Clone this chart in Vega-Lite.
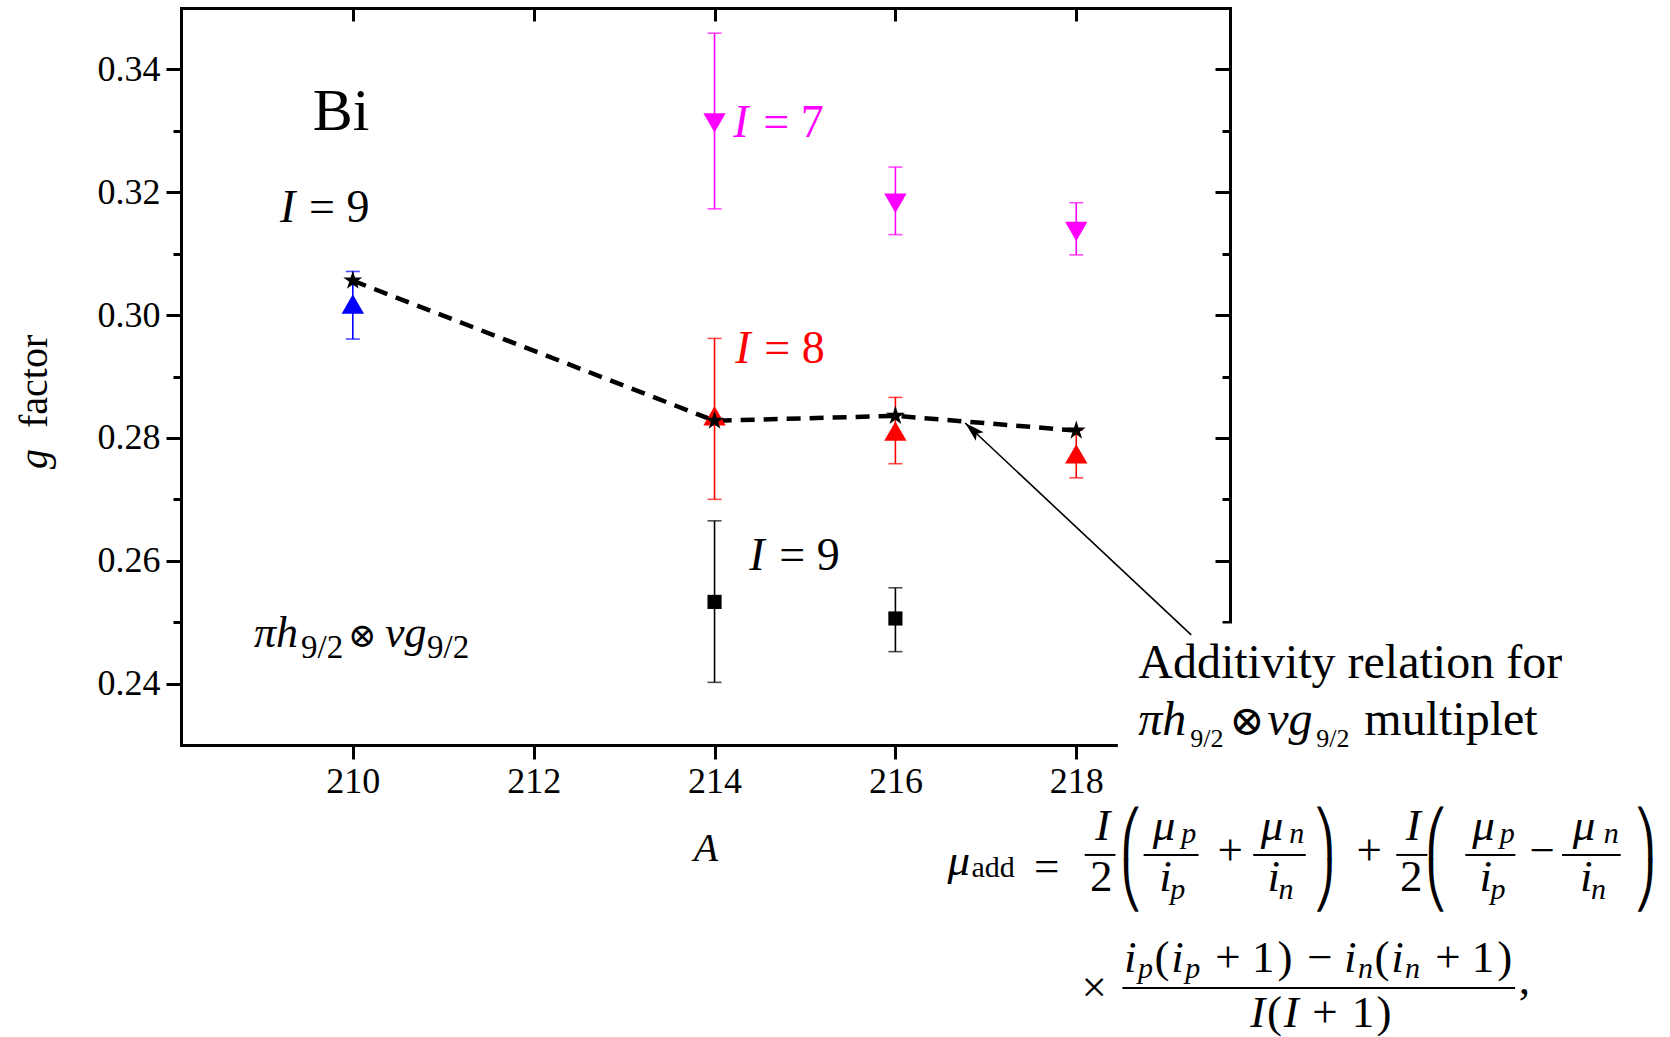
{
  "$schema": "https://vega.github.io/schema/vega-lite/v6.json",
  "width": 1049,
  "height": 737,
  "autosize": {"type": "none"},
  "padding": {"left": 181, "top": 8, "right": 440, "bottom": 292},
  "background": "white",
  "config": {
    "view": {"stroke": null},
    "font": "Liberation Serif",
    "text": {"font": "Liberation Serif, DejaVu Serif", "color": "black", "baseline": "alphabetic"}
  },
  "datasets": {
    "pts": [
      {"A": 210, "g": 0.3018, "lo": 0.2961, "hi": 0.3071, "series": "I9b"},
      {"A": 214, "g": 0.3313, "lo": 0.3173, "hi": 0.3459, "series": "I7"},
      {"A": 216, "g": 0.3182, "lo": 0.3131, "hi": 0.3241, "series": "I7"},
      {"A": 218, "g": 0.3136, "lo": 0.3098, "hi": 0.3183, "series": "I7"},
      {"A": 214, "g": 0.2836, "lo": 0.2700, "hi": 0.2962, "series": "I8"},
      {"A": 216, "g": 0.2811, "lo": 0.2758, "hi": 0.2866, "series": "I8"},
      {"A": 218, "g": 0.2774, "lo": 0.2735, "hi": 0.2813, "series": "I8"},
      {"A": 214, "g": 0.2533, "lo": 0.2402, "hi": 0.2665, "series": "I9"},
      {"A": 216, "g": 0.2506, "lo": 0.2452, "hi": 0.2556, "series": "I9"}
    ],
    "additivity": [
      {"A": 210, "g": 0.3056},
      {"A": 214, "g": 0.2828},
      {"A": 216, "g": 0.2836},
      {"A": 218, "g": 0.2812}
    ],
    "spinI": [
      {"A": 209.195, "g": 0.31516, "t": "I", "series": "I9"},
      {"A": 214.206, "g": 0.32900, "t": "I", "series": "I7"},
      {"A": 214.228, "g": 0.29225, "t": "I", "series": "I8"},
      {"A": 214.383, "g": 0.25850, "t": "I", "series": "I9"}
    ],
    "spinValue": [
      {"A": 209.516, "g": 0.31516, "t": "= 9", "series": "I9"},
      {"A": 214.538, "g": 0.32900, "t": "= 7", "series": "I7"},
      {"A": 214.549, "g": 0.29225, "t": "= 8", "series": "I8"},
      {"A": 214.715, "g": 0.25850, "t": "= 9", "series": "I9"}
    ],
    "element": [{"A": 209.870, "g": 0.33014, "t": "Bi"}],
    "configIt": [
      {"A": 208.907, "g": 0.245964, "t": "πh"},
      {"A": 210.356, "g": 0.245964, "t": "νg"}
    ],
    "configRm": [{"A": 209.947, "g": 0.245964, "t": "⊗"}],
    "configSub": [
      {"A": 209.427, "g": 0.244173, "t": "9/2"},
      {"A": 210.821, "g": 0.244173, "t": "9/2"}
    ],
    "noteRm": [
      {"A": 218.685, "g": 0.240917, "t": "Additivity relation for"},
      {"A": 221.185, "g": 0.231637, "t": "multiplet"}
    ],
    "noteOtimes": [{"A": 219.692, "g": 0.231637, "t": "⊗"}],
    "noteIt": [
      {"A": 218.685, "g": 0.231637, "t": "πh"},
      {"A": 220.112, "g": 0.231637, "t": "νg"}
    ],
    "noteSub": [
      {"A": 219.260, "g": 0.229683, "t": "9/2"},
      {"A": 220.654, "g": 0.229683, "t": "9/2"}
    ],
    "noteBox": [{"A": 218.46, "A2": 226, "g": 0.2498, "g2": 0.18}],
    "arrow": [{"A": 219.271, "g": 0.24792, "A2": 216.772, "g2": 0.28243}],
    "arrowTip": [{"A": 216.772, "g": 0.28243}],
    "yTitleIt": [{"A": 206.618, "g": 0.27494, "t": "g"}],
    "yTitleRm": [{"A": 206.618, "g": 0.28162, "t": "factor"}],
    "eqIt": [
      {"A": 216.702, "g": 0.208843, "t": "μ"},
      {"A": 218.292, "g": 0.214542, "t": "I"},
      {"A": 218.970, "g": 0.214542, "t": "μ"},
      {"A": 218.987, "g": 0.206238, "t": "i"},
      {"A": 220.166, "g": 0.214542, "t": "μ"},
      {"A": 220.183, "g": 0.206238, "t": "i"},
      {"A": 221.727, "g": 0.214542, "t": "I"},
      {"A": 222.503, "g": 0.214542, "t": "μ"},
      {"A": 222.528, "g": 0.206238, "t": "i"},
      {"A": 223.615, "g": 0.214542, "t": "μ"},
      {"A": 223.640, "g": 0.206238, "t": "i"},
      {"A": 218.598, "g": 0.193050, "t": "i"},
      {"A": 219.119, "g": 0.193050, "t": "i"},
      {"A": 221.030, "g": 0.193050, "t": "i"},
      {"A": 221.552, "g": 0.193050, "t": "i"},
      {"A": 220.007, "g": 0.184095, "t": "I"},
      {"A": 220.376, "g": 0.184095, "t": "I"}
    ],
    "eqRm": [
      {"A": 217.672, "g": 0.207866, "t": "="},
      {"A": 218.276, "g": 0.206238, "t": "2"},
      {"A": 219.703, "g": 0.210390, "t": "+"},
      {"A": 221.240, "g": 0.210390, "t": "+"},
      {"A": 221.705, "g": 0.206238, "t": "2"},
      {"A": 223.151, "g": 0.210390, "t": "−"},
      {"A": 218.198, "g": 0.188166, "t": "×"},
      {"A": 218.949, "g": 0.193050, "t": "("},
      {"A": 219.677, "g": 0.193050, "t": "+"},
      {"A": 220.067, "g": 0.193050, "t": "1"},
      {"A": 220.307, "g": 0.193050, "t": ")"},
      {"A": 220.694, "g": 0.193050, "t": "−"},
      {"A": 221.382, "g": 0.193050, "t": "("},
      {"A": 222.111, "g": 0.193050, "t": "+"},
      {"A": 222.499, "g": 0.193050, "t": "1"},
      {"A": 222.739, "g": 0.193050, "t": ")"},
      {"A": 220.191, "g": 0.184095, "t": "("},
      {"A": 220.750, "g": 0.184095, "t": "+"},
      {"A": 221.172, "g": 0.184095, "t": "1"},
      {"A": 221.403, "g": 0.184095, "t": ")"},
      {"A": 222.955, "g": 0.189468, "t": ","}
    ],
    "eqSub": [
      {"A": 219.245, "g": 0.214053, "t": "p"},
      {"A": 220.437, "g": 0.214053, "t": "n"},
      {"A": 222.765, "g": 0.214053, "t": "p"},
      {"A": 223.915, "g": 0.214053, "t": "n"},
      {"A": 219.123, "g": 0.204935, "t": "p"},
      {"A": 220.319, "g": 0.204935, "t": "n"},
      {"A": 222.664, "g": 0.204935, "t": "p"},
      {"A": 223.776, "g": 0.204935, "t": "n"},
      {"A": 218.766, "g": 0.192073, "t": "p"},
      {"A": 219.287, "g": 0.192073, "t": "p"},
      {"A": 221.197, "g": 0.192073, "t": "n"},
      {"A": 221.719, "g": 0.192073, "t": "n"}
    ],
    "eqSubRm": [{"A": 217.081, "g": 0.208518, "t": "add"}],
    "eqParenTop": [
      {"A": 218.608, "g": 0.212995, "t": "⎛"},
      {"A": 220.746, "g": 0.212995, "t": "⎞"},
      {"A": 221.981, "g": 0.212995, "t": "⎛"},
      {"A": 224.291, "g": 0.212995, "t": "⎞"}
    ],
    "eqParenBottom": [
      {"A": 218.608, "g": 0.204529, "t": "⎝"},
      {"A": 220.746, "g": 0.204529, "t": "⎠"},
      {"A": 221.981, "g": 0.204529, "t": "⎝"},
      {"A": 224.291, "g": 0.204529, "t": "⎠"}
    ],
    "eqBars": [
      {"A": 218.094, "A2": 218.433, "g": 0.212099},
      {"A": 218.745, "A2": 219.352, "g": 0.212099},
      {"A": 219.957, "A2": 220.538, "g": 0.212099},
      {"A": 221.539, "A2": 221.882, "g": 0.212099},
      {"A": 222.302, "A2": 222.855, "g": 0.212099},
      {"A": 223.372, "A2": 224.021, "g": 0.212099},
      {"A": 218.510, "A2": 222.852, "g": 0.190445}
    ]
  },
  "encoding": {
    "x": {"field": "A", "type": "quantitative", "scale": {"domain": [208.1, 219.7], "nice": false, "zero": false}, "axis": null},
    "y": {"field": "g", "type": "quantitative", "scale": {"domain": [0.23, 0.35], "nice": false, "zero": false}, "axis": null}
  },
  "layer": [
    {
      "data": {"name": "pts"},
      "mark": {"type": "rule", "strokeWidth": 1.6},
      "encoding": {
        "x": {
          "field": "A", "type": "quantitative",
          "scale": {"domain": [208.1, 219.7], "nice": false, "zero": false},
          "axis": {
            "orient": "bottom", "values": [210, 212, 214, 216, 218], "format": "d",
            "title": "A", "titleFont": "Liberation Serif", "titleFontSize": 40, "titleFontStyle": "italic",
            "titleFontWeight": "normal", "titleColor": "black", "titlePadding": 29,
            "labelFont": "Liberation Serif", "labelFontSize": 36, "labelColor": "black", "labelPadding": 5,
            "labelFlush": false, "labelOverlap": false,
            "tickSize": 14, "tickWidth": 3, "tickColor": "black",
            "domainColor": "black", "domainWidth": 3, "domainCap": "square", "grid": false
          }
        },
        "y": {
          "field": "lo", "type": "quantitative",
          "scale": {"domain": [0.23, 0.35], "nice": false, "zero": false},
          "axis": {
            "orient": "left", "title": null,
            "values": [0.24, 0.25, 0.26, 0.27, 0.28, 0.29, 0.3, 0.31, 0.32, 0.33, 0.34],
            "labelExpr": "round(datum.value*100) % 2 == 0 ? format(datum.value, '.2f') : ''",
            "labelFont": "Liberation Serif", "labelFontSize": 36, "labelColor": "black", "labelPadding": 6,
            "labelOverlap": false, "labelFlush": false,
            "tickSize": {"condition": {"test": "round(datum.value*100) % 2 == 0", "value": 15}, "value": 8},
            "tickWidth": 3, "tickColor": "black",
            "domainColor": "black", "domainWidth": 3, "domainCap": "square", "grid": false
          }
        },
        "y2": {"field": "hi"},
        "color": {"field": "series", "type": "nominal", "scale": {"domain": ["I7", "I8", "I9b", "I9"], "range": ["#ff00ff", "#ff0000", "#0000ff", "#000000"]}, "legend": null}
      }
    },
    {
      "data": {"name": "pts"},
      "mark": {"type": "tick", "orient": "horizontal", "size": 14, "thickness": 1.6},
      "encoding": {
        "y": {"field": "lo", "type": "quantitative", "scale": {"domain": [0.23, 0.35], "nice": false, "zero": false}, "axis": null},
        "color": {"field": "series", "type": "nominal", "scale": {"domain": ["I7", "I8", "I9b", "I9"], "range": ["#ff00ff", "#ff0000", "#0000ff", "#000000"]}, "legend": null}
      }
    },
    {
      "data": {"name": "pts"},
      "mark": {"type": "tick", "orient": "horizontal", "size": 14, "thickness": 1.6},
      "encoding": {
        "y": {"field": "hi", "type": "quantitative", "scale": {"domain": [0.23, 0.35], "nice": false, "zero": false}, "axis": null},
        "color": {"field": "series", "type": "nominal", "scale": {"domain": ["I7", "I8", "I9b", "I9"], "range": ["#ff00ff", "#ff0000", "#0000ff", "#000000"]}, "legend": null}
      }
    },
    {
      "data": {"name": "additivity"},
      "mark": {"type": "line", "color": "black", "strokeWidth": 4.5, "strokeDash": [14, 9]},
      "encoding": {
        "x": {
          "field": "A", "type": "quantitative",
          "scale": {"domain": [208.1, 219.7], "nice": false, "zero": false},
          "axis": {
            "orient": "top", "title": null, "labels": false, "values": [210, 212, 214, 216, 218],
            "tickSize": -13, "tickWidth": 3, "tickColor": "black",
            "domainColor": "black", "domainWidth": 3, "domainCap": "square", "grid": false
          }
        },
        "y": {
          "field": "g", "type": "quantitative",
          "scale": {"domain": [0.23, 0.35], "nice": false, "zero": false},
          "axis": {
            "orient": "right", "title": null, "labels": false,
            "values": [0.24, 0.25, 0.26, 0.27, 0.28, 0.29, 0.3, 0.31, 0.32, 0.33, 0.34],
            "tickSize": {"condition": {"test": "round(datum.value*100) % 2 == 0", "value": -15}, "value": -8},
            "tickWidth": 3, "tickColor": "black",
            "domainColor": "black", "domainWidth": 3, "domainCap": "square", "grid": false
          }
        }
      }
    },
    {
      "data": {"name": "pts"},
      "transform": [{"filter": "datum.series != 'I9'"}],
      "mark": {"type": "point", "filled": true, "size": 500, "opacity": 1},
      "encoding": {
        "shape": {"field": "series", "type": "nominal", "scale": {"domain": ["I7", "I8", "I9b"], "range": ["triangle-down", "triangle-up", "triangle-up"]}, "legend": null},
        "color": {"field": "series", "type": "nominal", "scale": {"domain": ["I7", "I8", "I9b", "I9"], "range": ["#ff00ff", "#ff0000", "#0000ff", "#000000"]}, "legend": null}
      }
    },
    {
      "data": {"name": "pts"},
      "transform": [{"filter": "datum.series == 'I9'"}],
      "mark": {"type": "square", "size": 200, "opacity": 1, "color": "black"}
    },
    {
      "data": {"name": "additivity"},
      "mark": {"type": "point", "shape": "M0,-1L0.2245,-0.309L0.951,-0.309L0.3633,0.118L0.588,0.809L0,0.382L-0.588,0.809L-0.3633,0.118L-0.951,-0.309L-0.2245,-0.309Z", "filled": true, "color": "black", "size": 400, "opacity": 1}
    },
    {
      "data": {"name": "noteBox"},
      "mark": {"type": "rect", "color": "white"},
      "encoding": {"x2": {"field": "A2"}, "y2": {"field": "g2"}}
    },
    {
      "data": {"name": "arrow"},
      "mark": {"type": "rule", "color": "black", "strokeWidth": 1.6},
      "encoding": {"x2": {"field": "A2"}, "y2": {"field": "g2"}}
    },
    {
      "data": {"name": "arrowTip"},
      "mark": {"type": "point", "shape": "M0,0L0.35,1.2L0,0.95L-0.35,1.2Z", "filled": true, "color": "black", "size": 1100, "angle": 313, "opacity": 1}
    },
    {
      "data": {"name": "element"},
      "mark": {"type": "text", "fontSize": 60, "align": "center"},
      "encoding": {"text": {"field": "t"}}
    },
    {
      "data": {"name": "spinI"},
      "mark": {"type": "text", "fontSize": 46, "fontStyle": "italic", "align": "left"},
      "encoding": {
        "text": {"field": "t"},
        "color": {"field": "series", "type": "nominal", "scale": {"domain": ["I7", "I8", "I9b", "I9"], "range": ["#ff00ff", "#ff0000", "#0000ff", "#000000"]}, "legend": null}
      }
    },
    {
      "data": {"name": "spinValue"},
      "mark": {"type": "text", "fontSize": 46, "align": "left"},
      "encoding": {
        "text": {"field": "t"},
        "color": {"field": "series", "type": "nominal", "scale": {"domain": ["I7", "I8", "I9b", "I9"], "range": ["#ff00ff", "#ff0000", "#0000ff", "#000000"]}, "legend": null}
      }
    },
    {
      "data": {"name": "configIt"},
      "mark": {"type": "text", "fontSize": 44, "fontStyle": "italic", "align": "left"},
      "encoding": {"text": {"field": "t"}}
    },
    {
      "data": {"name": "configRm"},
      "mark": {"type": "text", "fontSize": 34, "align": "left"},
      "encoding": {"text": {"field": "t"}}
    },
    {
      "data": {"name": "configSub"},
      "mark": {"type": "text", "fontSize": 33, "align": "left"},
      "encoding": {"text": {"field": "t"}}
    },
    {
      "data": {"name": "noteRm"},
      "mark": {"type": "text", "fontSize": 48, "align": "left"},
      "encoding": {"text": {"field": "t"}}
    },
    {
      "data": {"name": "noteOtimes"},
      "mark": {"type": "text", "fontSize": 42, "align": "left"},
      "encoding": {"text": {"field": "t"}}
    },
    {
      "data": {"name": "noteIt"},
      "mark": {"type": "text", "fontSize": 48, "fontStyle": "italic", "align": "left"},
      "encoding": {"text": {"field": "t"}}
    },
    {
      "data": {"name": "noteSub"},
      "mark": {"type": "text", "fontSize": 26, "align": "left"},
      "encoding": {"text": {"field": "t"}}
    },
    {
      "data": {"name": "yTitleIt"},
      "mark": {"type": "text", "fontSize": 40, "fontStyle": "italic", "align": "left", "angle": 270},
      "encoding": {"text": {"field": "t"}}
    },
    {
      "data": {"name": "yTitleRm"},
      "mark": {"type": "text", "fontSize": 40, "align": "left", "angle": 270},
      "encoding": {"text": {"field": "t"}}
    },
    {
      "data": {"name": "eqIt"},
      "mark": {"type": "text", "fontSize": 45, "fontStyle": "italic", "align": "center"},
      "encoding": {"text": {"field": "t"}}
    },
    {
      "data": {"name": "eqRm"},
      "mark": {"type": "text", "fontSize": 45, "align": "center"},
      "encoding": {"text": {"field": "t"}}
    },
    {
      "data": {"name": "eqSub"},
      "mark": {"type": "text", "fontSize": 30, "fontStyle": "italic", "align": "center"},
      "encoding": {"text": {"field": "t"}}
    },
    {
      "data": {"name": "eqSubRm"},
      "mark": {"type": "text", "fontSize": 30, "align": "center"},
      "encoding": {"text": {"field": "t"}}
    },
    {
      "data": {"name": "eqParenTop"},
      "mark": {"type": "text", "font": "DejaVu Sans", "fontSize": 45, "align": "center"},
      "encoding": {"text": {"field": "t"}}
    },
    {
      "data": {"name": "eqParenBottom"},
      "mark": {"type": "text", "font": "DejaVu Sans", "fontSize": 45, "align": "center"},
      "encoding": {"text": {"field": "t"}}
    },
    {
      "data": {"name": "eqBars"},
      "mark": {"type": "rule", "color": "black", "strokeWidth": 2},
      "encoding": {"x2": {"field": "A2"}}
    }
  ],
  "resolve": {"axis": {"x": "independent", "y": "independent"}}
}
